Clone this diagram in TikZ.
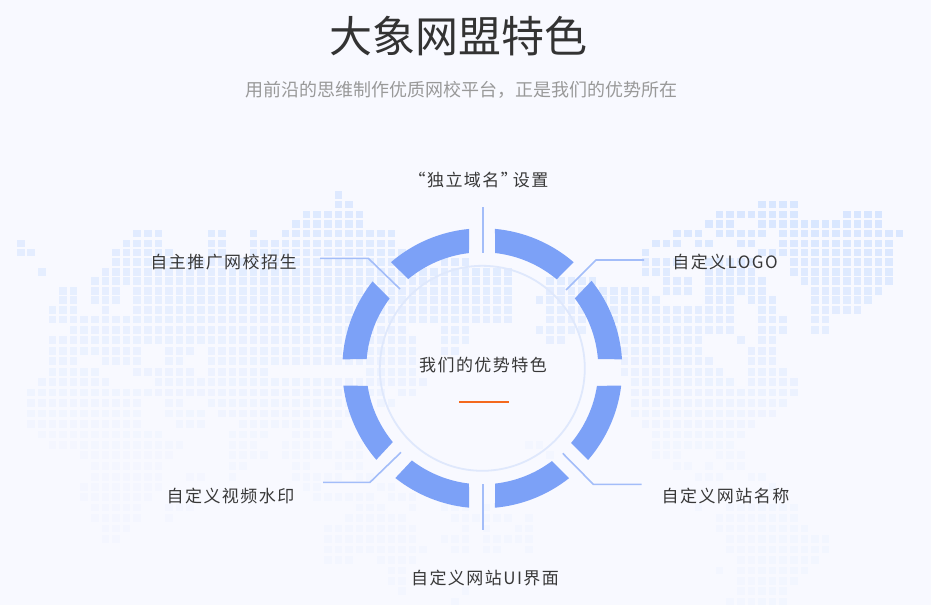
\documentclass[tikz,border=0pt]{standalone}
\usepackage{fontspec}
\setmainfont{Noto Sans CJK SC}
\newfontfamily\labelfont[LetterSpace=8.5]{Noto Sans CJK SC}
\definecolor{pagebg}{HTML}{F8F9FF}
\definecolor{mapdot}{HTML}{D8E6FF}
\definecolor{ringblue}{HTML}{7CA1F7}
\definecolor{ringline}{HTML}{DFE8FC}
\definecolor{wireblue}{HTML}{A3BDF9}
\tikzset{
  itemlabel/.style={text=black!78, font=\labelfont\fontsize{17}{20}\selectfont, inner sep=0pt},
  wire/.style={wireblue, line width=1.6pt},
}
% one row of the dotted map: y, then column spans
\newcommand{\maprow}[2]{%
  \pgfmathsetmacro\rowshade{max(18,min(100,100-(#1-220)*0.36))}%
  \foreach \a/\b in {#2}{\foreach \c in {\a,...,\b}{%
    \pgfmathsetmacro\dotshade{\rowshade*(0.72+0.28*\c/83)}%
    \path [fill=mapdot!\dotshade!pagebg] ({16.9+10.59*\c},{#1-3.8}) rectangle +(7.6,7.6);}}}
\newcommand{\ringseg}[4]{%
  \path [fill=ringblue] (#1:140) arc [start angle=#1, end angle=#2, radius=140]
    -- (#3:116) arc [start angle=#3, end angle=#4, radius=116] -- cycle;}
\begin{document}
\begin{tikzpicture}[x=1pt, y=-1pt]
    \path [fill=pagebg] (0,0) rectangle (931,605);
    \useasboundingbox (0,0) rectangle (931,605);

    % map
    \maprow{195}{30}
    \maprow{204.5}{30/31,70/73}
    \maprow{214.3}{27/32,66/73,78/81}
    \maprow{223.7}{26/32,65/67,70/81}
    \maprow{233.3}{11/13,18/19,22,25/35,62/64,66/70,72/83}
    \maprow{243.3}{0,10/13,18/19,22/35,60/62,64/65,68/69,72/82}
    \maprow{252.3}{0/1,9/14,18/19,22/36,59,70/82}
    \maprow{261.7}{9/36,40/42,59/62,65/69,73/82}
    \maprow{271.7}{2,8/46,59/61,65/69,73/82}
    \maprow{281}{7/46,50/54,61/63,65/70,74/82}
    \maprow{291}{4/5,7/9,11/46,50/59,61/63,65/70,75/81}
    \maprow{300}{4/5,7/9,11/46,49/60,65/67,69/71,75/80}
    \maprow{310}{3/5,8,11/46,50/67,70/71,75/79}
    \maprow{319.3}{3/46,50/67,70/72,75/76}
    \maprow{330}{5/36,40/42,49/53,55/67,70/72,75/76}
    \maprow{340}{3/37,40/42,50/51,55/64,68,70/71}
    \maprow{350.7}{3/11,14/16,18/37,40/41,57/64,69/71}
    \maprow{361}{3/5,8/11,14/15,18/37,57/65,69/71}
    \maprow{371.7}{3/7,11/16,18/23,33/37,57/66,69/72}
    \maprow{382}{2/8,13/38,58/67,69/73}
    \maprow{392.3}{1/34,36/37,58/73}
    \maprow{403}{1/11,14/15,18/31,34/35,58/72}
    \maprow{413.3}{1/11,14/17,19/31,58/71}
    \maprow{424}{1/11,15/17,21/30,59/69}
    \maprow{434.3}{2/13,20/23,26/29,60/68}
    \maprow{445}{3/15,20/22,25/29,31/32,48/49,60/67}
    \maprow{455}{6/14,20/23,25/32,50,60/62,66/68}
    \maprow{466}{7/13,20/21,26/27,30/32,62/63,65,67/68}
    \maprow{476.7}{7/13,16/17,20,26/30,32/33,64/66,69/70}
    \maprow{487}{6/13,27/28,34/35,71}
    \maprow{497}{6/12,28/33,35/37}
    \maprow{507.5}{7/11,14/16,32/34,37,40/42,44,64,67/73}
    \maprow{518}{7/11,14,31/36,41/46,48,66/73}
    \maprow{528.5}{8/10,29/37,42,44,47/48,66/74}
    \maprow{539}{8/9,29/37,40/42,44/48,67/76}
    \maprow{549.5}{29/38,41/42,44/45,48,67/76}
    \maprow{560}{29/31,34/37,68/75}
    \maprow{570.5}{35/36,66,68/74}
    \maprow{581}{35/36,68/73}
    \maprow{591}{36,42,68/72}
    \maprow{601.5}{41,67/72}

    % ring
    \begin{scope}[shift={(482.3,368.3)}, y=1pt]
        \draw [ringline, line width=1.8pt] (0,0) circle [radius=102.5];
        \ringseg{84.8}{49.3}{50.1}{83.7}
        \ringseg{38.7}{3.7}{4.5}{37.1}
        \ringseg{-7.1}{-40.9}{-40.1}{-8.7}
        \ringseg{-51.7}{-84.8}{-83.7}{-53.1}
        \ringseg{95.4}{130.7}{129.7}{96.6}
        \ringseg{141.6}{176.3}{175.5}{143}
        \ringseg{187.1}{220.8}{219.5}{188.7}
        \ringseg{231.6}{264.6}{263.4}{232.6}
    \end{scope}

    % texts
    \node [text=black!80, font=\fontsize{43}{46}\selectfont, inner sep=0pt] (title) at (458.5,36) {大象网盟特色};
    \node [text=black!40, font=\fontsize{18}{22}\selectfont, inner sep=0pt] (subtitle) at (461,90) {用前沿的思维制作优质网校平台，正是我们的优势所在};
    \node [itemlabel] (domain) at (483,180) {\kern-4pt “独立域名”\kern-5pt 设置\kern5pt};
    \node [itemlabel] (promo) at (223.5,262) {自主推广网校招生};
    \node [itemlabel] (logo) at (725,262) {自定义LOGO};
    \node [itemlabel] (center) at (483,365) {我们的优势特色};
    \node [itemlabel] (watermark) at (230.5,496) {自定义视频水印};
    \node [itemlabel] (sitename) at (725.5,496) {自定义网站名称};
    \node [itemlabel] (siteui) at (485,578) {自定义网站UI界面};

    % orange bar
    \coordinate (barl) at (459,402);
    \coordinate (barr) at (508.5,402);
    \draw [color={rgb,255:red,244;green,105;blue,30}, line width=1.8pt] (barl) -- (barr);

    % connectors
    \coordinate (topa) at (483,207.3);
    \coordinate (topb) at (483,253.3);
    \coordinate (bota) at (483,484.3);
    \coordinate (botb) at (483,530);
    \coordinate (tra) at (566,290);
    \coordinate (trb) at (596,260);
    \coordinate (trc) at (644,260);
    \coordinate (tla) at (400,289);
    \coordinate (tlb) at (368.3,258.3);
    \coordinate (tlc) at (320,258.3);
    \coordinate (bla) at (401,452.3);
    \coordinate (blb) at (370,482.3);
    \coordinate (blc) at (323,482.3);
    \coordinate (bra) at (562.7,453.3);
    \coordinate (brb) at (593.3,484.3);
    \coordinate (brc) at (641.7,484.3);
    \draw [wire] (topa) -- (topb);
    \draw [wire] (bota) -- (botb);
    \draw [wire] (tra) -- (trb) -- (trc);
    \draw [wire] (tla) -- (tlb) -- (tlc);
    \draw [wire] (bla) -- (blb) -- (blc);
    \draw [wire] (bra) -- (brb) -- (brc);
\end{tikzpicture}
\end{document}
